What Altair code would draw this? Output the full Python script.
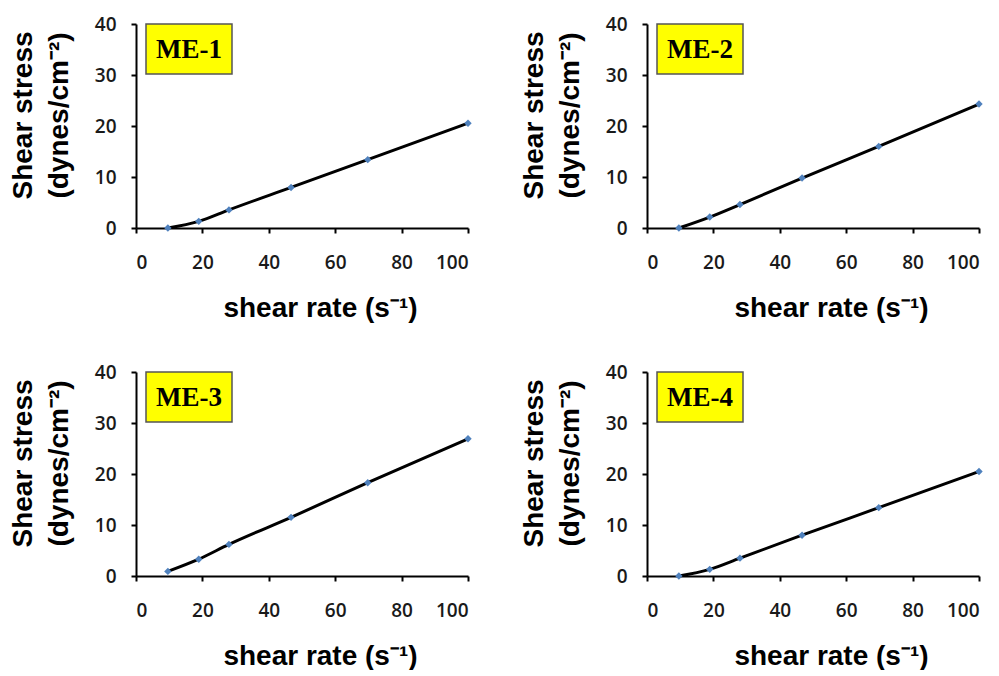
import altair as alt
import pandas as pd

# ---- data ----
shear_rate = [9.6, 18.9, 28.0, 46.7, 69.8, 100.0]
me1 = [0.0, 1.3, 3.55, 7.95, 13.4, 20.55]
me2 = [0.0, 2.15, 4.6, 9.8, 16.0, 24.3]
me3 = [0.9, 3.3, 6.2, 11.5, 18.3, 26.9]
me4 = [0.0, 1.3, 3.5, 8.0, 13.4, 20.5]
labels = ["ME-1", "ME-2", "ME-3", "ME-4"]
x_ticks = [0, 20, 40, 60, 80, 100]
y_ticks = [0, 10, 20, 30, 40]

W, H = 332, 204


def panel(name, ys):
    df = pd.DataFrame({"rate": shear_rate, "stress": ys})
    base = alt.Chart(df)
    x = alt.X(
        "rate:Q",
        scale=alt.Scale(domain=[0, 100], nice=False, zero=False),
        axis=alt.Axis(
            values=x_ticks,
            title="shear rate (s\u207b\u00b9)",
            titleX=W / 2 + 18,
            labelPadding=20,
            titlePadding=22,
        ),
    )
    y = alt.Y(
        "stress:Q",
        scale=alt.Scale(domain=[0, 40], nice=False),
        axis=alt.Axis(
            values=y_ticks,
            title=["Shear stress", "(dynes/cm\u207b\u00b2)"],
            titleY=H / 2 - 11,
            labelPadding=15,
            titlePadding=21,
        ),
    )
    line = base.mark_line(color="black", strokeWidth=3, interpolate="monotone").encode(x=x, y=y)
    pts = base.mark_point(shape="diamond", filled=True, color="#4F81BD", size=55, opacity=1).encode(
        x="rate:Q", y="stress:Q"
    )
    lab = pd.DataFrame({"label": [name]})
    box = alt.Chart(lab).mark_rect(fill="#FFFF00", stroke="#555555", strokeWidth=1.5).encode(
        x=alt.value(10), x2=alt.value(96), y=alt.value(0), y2=alt.value(50)
    )
    txt = alt.Chart(lab).mark_text(
        font="Liberation Serif", fontWeight="bold", fontSize=27, color="black"
    ).encode(x=alt.value(53), y=alt.value(26), text="label:N")
    return alt.layer(line, pts, box, txt).properties(width=W, height=H)


p1 = panel(labels[0], me1)
p2 = panel(labels[1], me2)
p3 = panel(labels[2], me3)
p4 = panel(labels[3], me4)

chart = (
    alt.vconcat(
        alt.hconcat(p1, p2, spacing=46),
        alt.hconcat(p3, p4, spacing=46),
        spacing=41,
    )
    .properties(padding={"left": 9, "top": 15, "right": 5, "bottom": 0}, background="white")
    .configure_view(stroke=None)
    .configure_axis(
        grid=False,
        domainColor="black",
        domainWidth=2,
        tickColor="black",
        tickWidth=2,
        tickSize=5,
        labelFont="Open Sans",
        labelFontWeight=600,
        labelFontSize=19,
        labelColor="#1a1a1a",
        titleFont="Liberation Sans",
        titleFontWeight="bold",
        titleFontSize=28,
        titleColor="black",
        titleLineHeight=36,
    )
)

chart.save("out.html", embed_options={"renderer": "svg", "actions": False})
